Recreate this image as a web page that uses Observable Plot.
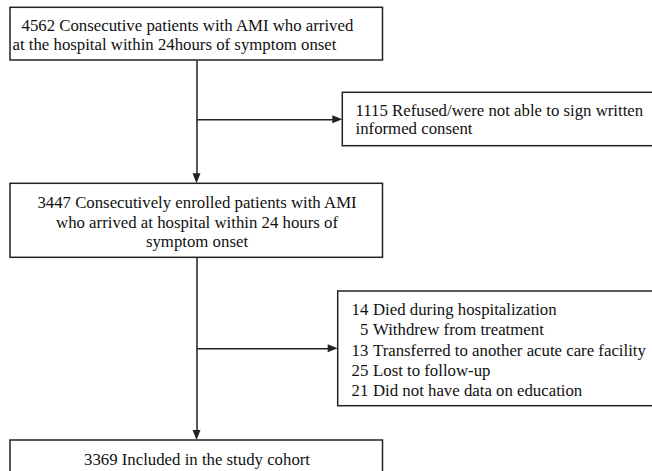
<!DOCTYPE html>
<html>
<head>
<meta charset="utf-8">
<script src="https://cdn.jsdelivr.net/npm/d3@7"></script>
<script src="https://cdn.jsdelivr.net/npm/@observablehq/plot@0.6"></script>
<style>
  html, body { margin: 0; padding: 0; background: #fff; }
</style>
</head>
<body>
<script>
// ---- content (data) ----
const enrolledText = ["4562 Consecutive patients with AMI who arrived", "at the hospital within 24hours of symptom onset"];
const refusedText = ["1115 Refused/were not able to sign written", "informed consent"];
const consentedText = ["3447 Consecutively enrolled patients with AMI", "who arrived at hospital within 24 hours of", "symptom onset"];
const exclusionCounts = [14, 5, 13, 25, 21];
const exclusionReasons = ["Died during hospitalization", "Withdrew from treatment", "Transferred to another acute care facility", "Lost to follow-up", "Did not have data on education"];
const cohortText = ["3369 Included in the study cohort"];

// ---- layout (pixel space of the flowchart) ----
const W = 652, H = 471;
const spineX = 196.5;
const fs = 16.8;
const boxes = [
  {x1: 10, x2: 382.5, y1: 7.3, y2: 60},
  {x1: 342.3, x2: 660, y1: 92.3, y2: 145.7},
  {x1: 10, x2: 382.5, y1: 183.3, y2: 257.3},
  {x1: 337.7, x2: 660, y1: 291, y2: 405.7},
  {x1: 10, x2: 382.5, y1: 440, y2: 490}
];
const textRows = [
  ...enrolledText.map((t, i) => ({text: t, x: [21, 12][i], y: 25 + i * 19.5, anchor: "start"})),
  ...refusedText.map((t, i) => ({text: t, x: 355, y: 110.5 + i * 18, anchor: "start"})),
  ...consentedText.map((t, i) => ({text: t, x: spineX, y: 202 + i * 19.7, anchor: "middle"})),
  ...exclusionCounts.map((c, i) => ({text: String(c), x: 367.8, y: 309 + i * 20.4, anchor: "end"})),
  ...exclusionReasons.map((t, i) => ({text: t, x: 372.5, y: 309 + i * 20.4, anchor: "start"})),
  ...cohortText.map((t) => ({text: t, x: spineX, y: 458.7, anchor: "middle"}))
];
// arrows: from (x1,y1) to tip (x2,y2)
const arrows = [
  {x1: spineX, y1: 60, x2: spineX, y2: 183.3},
  {x1: spineX, y1: 119.3, x2: 342.3, y2: 119.3},
  {x1: spineX, y1: 257.3, x2: spineX, y2: 440},
  {x1: spineX, y1: 348.3, x2: 337.7, y2: 348.3}
];
const headLen = 10, headHalf = 4;
const shafts = arrows.map(a => a.x1 === a.x2
  ? {x1: a.x1, y1: a.y1, x2: a.x2, y2: a.y2 - headLen + 1}
  : {x1: a.x1, y1: a.y1, x2: a.x2 - headLen + 1, y2: a.y2});
const vHeads = arrows.filter(a => a.x1 === a.x2).flatMap((a, k) => [
  {id: k, y: a.y2 - headLen, xa: a.x2 - headHalf, xb: a.x2 + headHalf},
  {id: k, y: a.y2, xa: a.x2, xb: a.x2}
]);
const hHeads = arrows.filter(a => a.y1 === a.y2).flatMap((a, k) => [
  {id: k, x: a.x2 - headLen, ya: a.y2 - headHalf, yb: a.y2 + headHalf},
  {id: k, x: a.x2, ya: a.y2, yb: a.y2}
]);

const ink = "#222";
const textOpts = {x: "x", y: "y", text: "text", fill: "#111", fontSize: fs};
const chart = Plot.plot({
  width: W, height: H, margin: 0,
  x: {domain: [0, W], range: [0, W], axis: null},
  y: {domain: [0, H], range: [0, H], axis: null},
  style: {fontFamily: "'Liberation Serif', 'Times New Roman', serif", fontSize: fs + "px", background: "#fff"},
  marks: [
    Plot.link(shafts, {x1: "x1", y1: "y1", x2: "x2", y2: "y2", stroke: ink, strokeWidth: 1.5}),
    Plot.areaX(vHeads, {y: "y", x1: "xa", x2: "xb", z: "id", fill: ink, curve: "linear"}),
    Plot.areaY(hHeads, {x: "x", y1: "ya", y2: "yb", z: "id", fill: ink, curve: "linear"}),
    Plot.rect(boxes, {x1: "x1", x2: "x2", y1: "y1", y2: "y2", fill: "#fff", stroke: ink, strokeWidth: 1.5}),
    Plot.text(textRows.filter(d => d.anchor === "start"), {...textOpts, textAnchor: "start"}),
    Plot.text(textRows.filter(d => d.anchor === "middle"), {...textOpts, textAnchor: "middle"}),
    Plot.text(textRows.filter(d => d.anchor === "end"), {...textOpts, textAnchor: "end"})
  ]
});
document.body.appendChild(chart);
</script>
</body>
</html>
